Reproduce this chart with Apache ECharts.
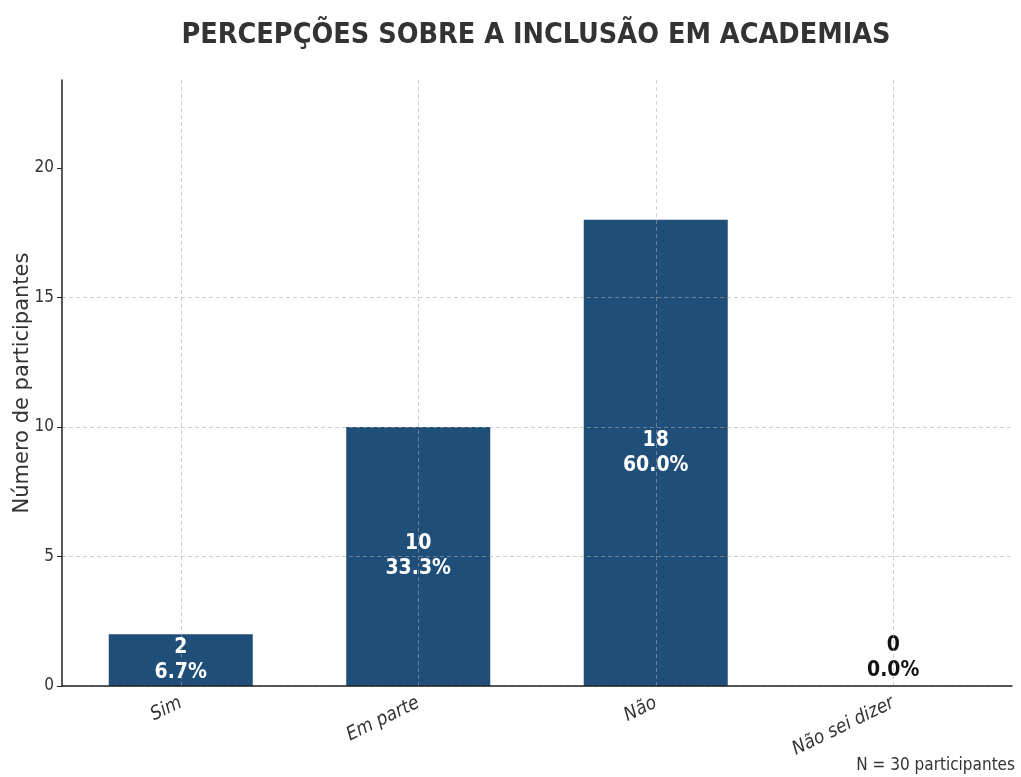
<!DOCTYPE html>
<html>
<head>
<meta charset="utf-8">
<script src="https://cdn.jsdelivr.net/npm/echarts@6/dist/echarts.min.js"></script>
<style>
  html, body { margin: 0; padding: 0; background: #fff; }
  #chart { width: 1021px; height: 777px; }
</style>
</head>
<body>
<div id="chart"></div>
<script>
// dados da pesquisa
const categories = ['Sim', 'Em parte', 'Não', 'Não sei dizer']
const counts = [2, 10, 18, 0]
const percents = ['6.7%', '33.3%', '60.0%', '0.0%']
const yTicks = [0, 5, 10, 15, 20]
const total = 30

const barColor = '#1f4e79'
const textColor = '#333333'
const gridLine = { color: 'rgba(170,170,170,0.55)', type: [4, 3], width: 1 }

const chart = echarts.init(document.getElementById('chart'))

const seriesData = counts.map((v, i) => {
  const item = { value: v }
  if (v === 0) {
    // barra vazia: rótulo acima da linha de base, em preto
    item.label = { position: 'top', distance: 3, color: '#111' }
  }
  return item
})

chart.setOption({
  animation: false,
  title: {
    text: 'PERCEPÇÕES SOBRE A INCLUSÃO EM ACADEMIAS',
    left: 531,
    textAlign: 'center',
    top: 16,
    textStyle: {
      fontFamily: 'DejaVu Sans Condensed',
      fontWeight: 'bold',
      fontSize: 28.5,
      color: textColor
    }
  },
  grid: {
    left: 62,
    right: 9,
    top: 80,
    bottom: 91,
    outerBoundsMode: 'none',
    containLabel: false
  },
  xAxis: {
    type: 'category',
    data: categories,
    z: 3,
    axisLine: { lineStyle: { color: '#222', width: 1.5 } },
    axisTick: { show: false },
    axisLabel: {
      rotate: 26,
      margin: 16,
      fontFamily: 'DejaVu Sans Condensed',
      fontStyle: 'italic',
      fontSize: 19,
      color: textColor
    },
    splitLine: { show: true, alignWithLabel: true, lineStyle: gridLine }
  },
  yAxis: {
    type: 'value',
    min: 0,
    max: 23.4,
    interval: 5,
    z: 3,
    name: 'Número de participantes',
    nameLocation: 'middle',
    nameGap: 29,
    nameMoveOverlap: false,
    nameTextStyle: {
      fontFamily: 'DejaVu Sans',
      fontSize: 21,
      color: textColor
    },
    axisLine: { show: true, lineStyle: { color: '#222', width: 1.5 } },
    axisTick: { show: true, length: 5, customValues: yTicks, lineStyle: { color: '#222' } },
    axisLabel: {
      customValues: yTicks,
      margin: 8,
      fontFamily: 'DejaVu Sans Condensed',
      fontSize: 17,
      color: textColor
    },
    splitLine: { show: true, showMaxLine: false, lineStyle: gridLine }
  },
  series: [{
    type: 'bar',
    data: seriesData,
    barWidth: 144,
    itemStyle: { color: barColor },
    label: {
      show: true,
      position: 'inside',
      formatter: p => p.value + '\n' + percents[p.dataIndex],
      fontFamily: 'DejaVu Sans Condensed',
      fontWeight: 'bold',
      fontSize: 21,
      lineHeight: 25,
      color: '#fff'
    }
  }],
  graphic: [{
    type: 'text',
    right: 6,
    bottom: 3,
    style: {
      text: 'N = ' + total + ' participantes',
      fontFamily: 'DejaVu Sans Condensed',
      fontSize: 17,
      fill: textColor
    }
  }]
})
</script>
</body>
</html>
